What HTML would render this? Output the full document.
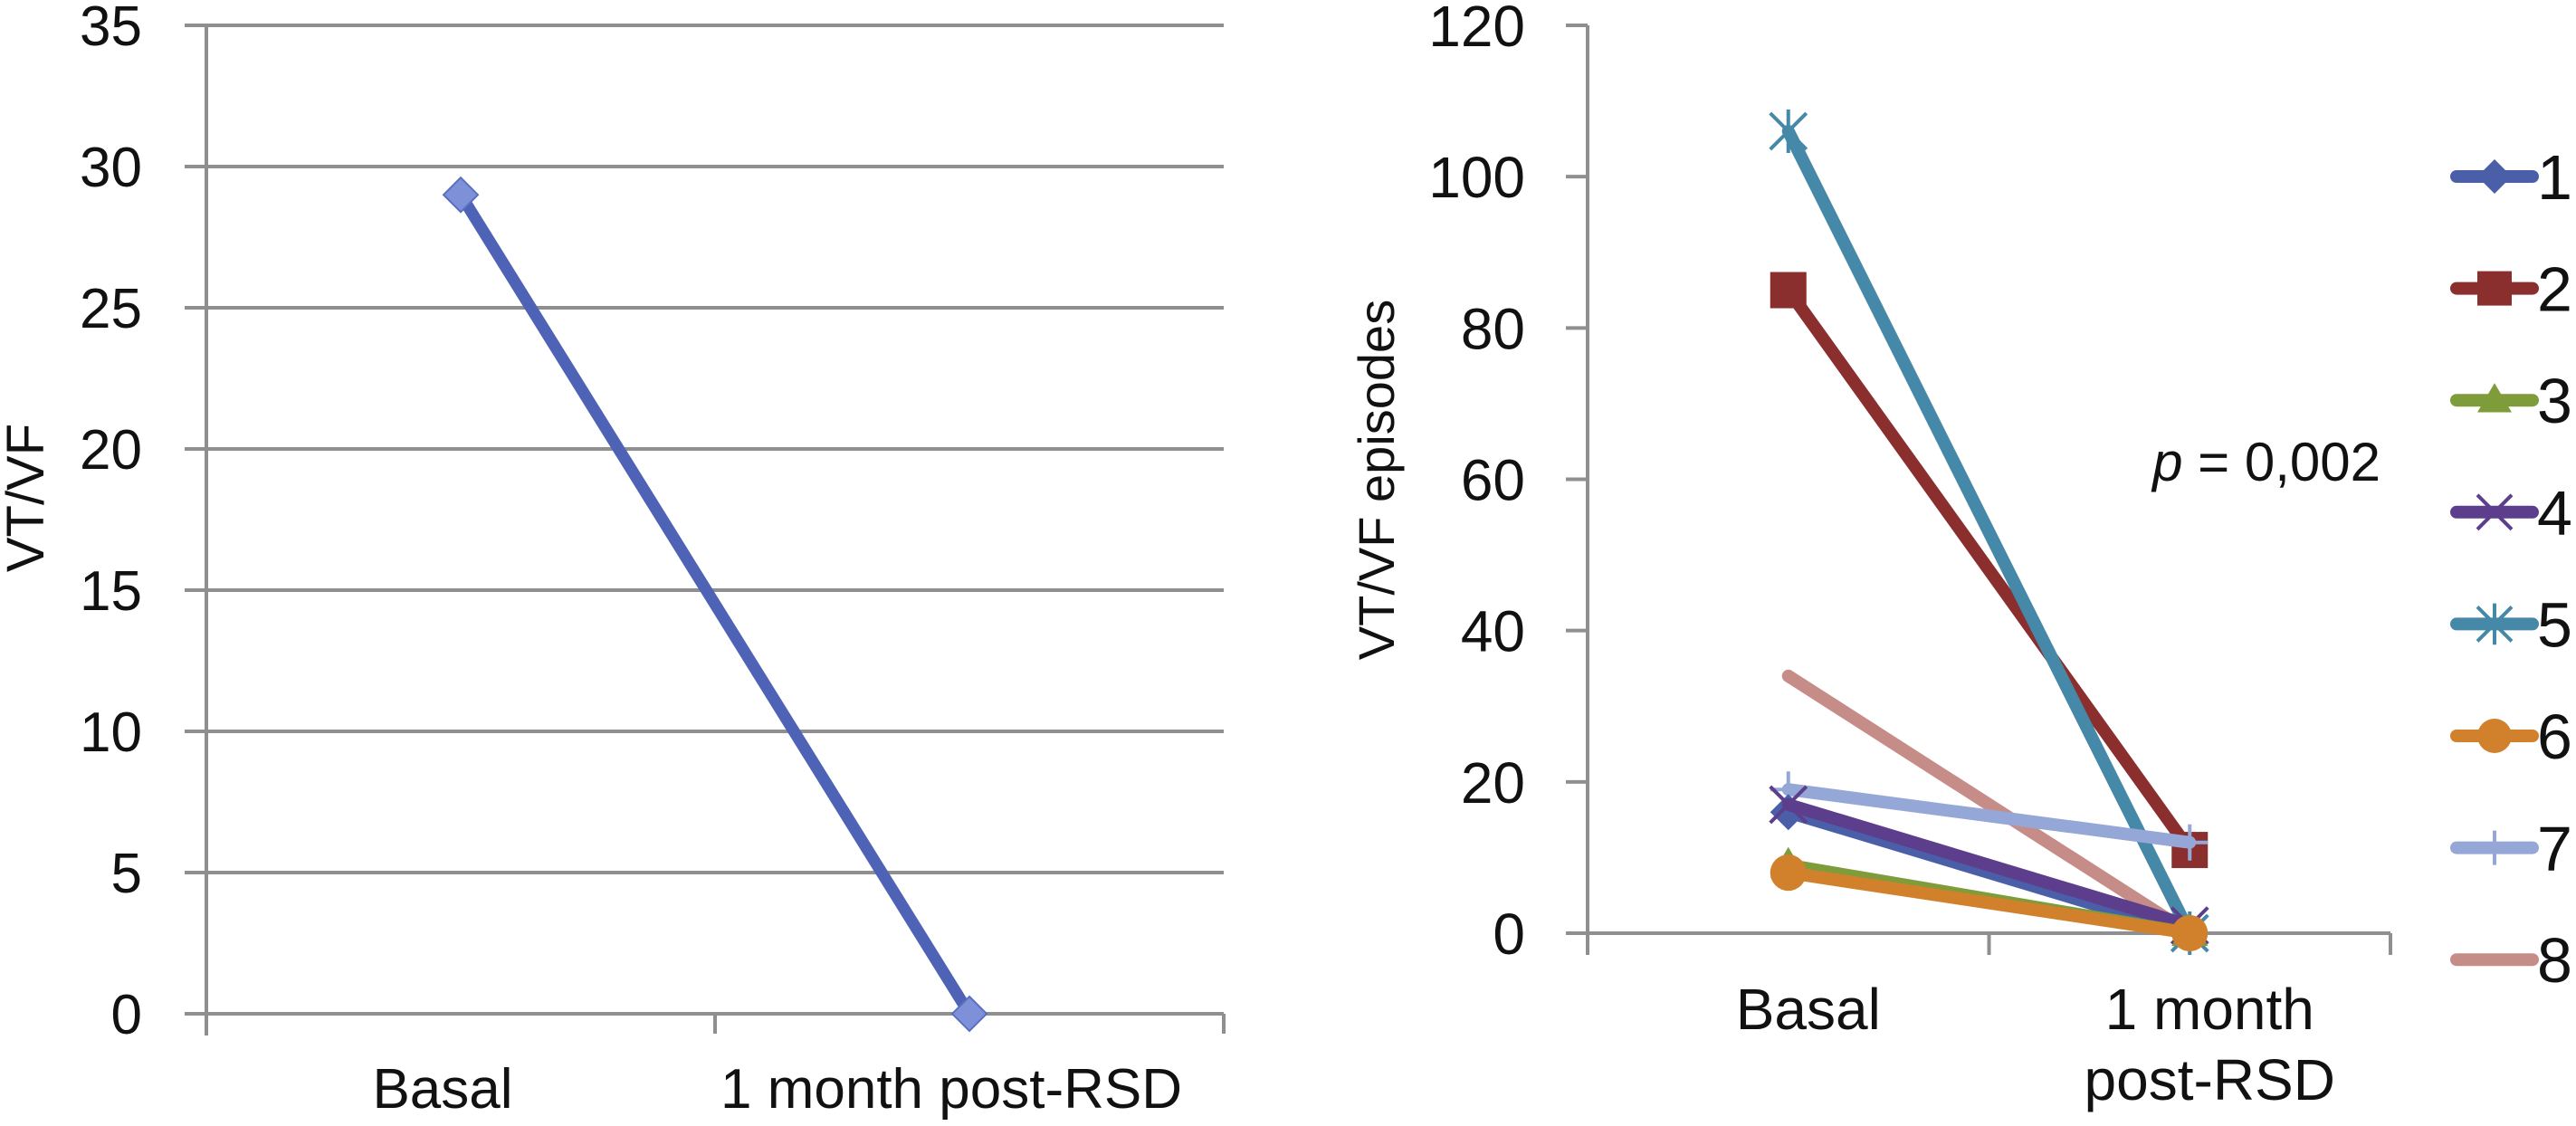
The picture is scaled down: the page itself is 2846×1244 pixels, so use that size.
<!DOCTYPE html>
<html><head><meta charset="utf-8"><style>
html,body{margin:0;padding:0;background:#fff;}
svg{display:block;font-family:"Liberation Sans",sans-serif;}
</style></head><body>
<svg id="chart" width="2846" height="1244" viewBox="0 0 2846 1244"></svg>
<script>
const leftCategories = ["Basal", "1 month post-RSD"];
const leftValues = [29, 0];
const leftTicks = [0, 5, 10, 15, 20, 25, 30, 35];
const rightCategories = ["Basal", "1 month|post-RSD"];
const rightTicks = [0, 20, 40, 60, 80, 100, 120];
const seriesNames = ["1","2","3","4","5","6","7","8"];
const basalValues = [16, 85, 9, 17, 106, 8, 19, 34];
const postValues = [0, 11, 0, 1, 0, 0, 12, 0];
const seriesColors = ["#4a5fa8","#8b2f2e","#7f9c3a","#5d3e8c","#4588a8","#d1812c","#95a7d6","#c68c88"];
const markers = ["diamond","square","triangle","x","star","circle","plus","none"];

const svg = document.getElementById('chart');
const NS = "http://www.w3.org/2000/svg";
function mk(tag, attrs, parent){const e=document.createElementNS(NS,tag);for(const k in attrs)e.setAttribute(k,attrs[k]);(parent||svg).appendChild(e);return e;}

// Left chart
const L = {x0:228, x1:1352, y0:1120, y1:28, max:35};
const ly = v => L.y0 - (v/L.max)*(L.y0-L.y1);
const lx = i => L.x0 + (L.x1-L.x0)*(i+0.5)/leftCategories.length;
const gL = mk('g',{});


leftTicks.forEach(t=>{
  const g = mk('line',{x1:L.x0-24,x2:L.x1,y1:ly(t),y2:ly(t),stroke:'#8f8f8f','stroke-width':4},gL);
  
  
  const tx = mk('text',{x:157,y:ly(t)+22,'text-anchor':'end','font-size':62,fill:'#111'},gL);
  tx.textContent=t;
  
  
});
mk('line',{x1:L.x0,x2:L.x0,y1:L.y1,y2:L.y0+24,stroke:'#8f8f8f','stroke-width':4},gL);
[1,2].forEach(i=>{const xx=L.x0+(L.x1-L.x0)*i/2;mk('line',{x1:xx,x2:xx,y1:L.y0,y2:L.y0+22,stroke:'#8f8f8f','stroke-width':4},gL);});
leftCategories.forEach((c,i)=>{
  const tx=mk('text',{x:lx(i)-20,y:1224,'text-anchor':'middle','font-size':62,fill:'#111'},gL);
  tx.textContent=c;
  
  
});
const lt=mk('text',{x:0,y:0,'text-anchor':'middle','font-size':58,fill:'#111',transform:'translate(48,550) rotate(-90)'},gL);
lt.textContent='VT/VF';


const lline=mk('polyline',{points:leftValues.map((v,i)=>lx(i)+','+ly(v)).join(' '),fill:'none',stroke:'#4f63b6','stroke-width':13,'stroke-linejoin':'round'},gL);


leftValues.forEach((v,i)=>{
  const x=lx(i),y=ly(v),s=19;
  const d=mk('polygon',{points:`${x},${y-s} ${x+s},${y} ${x},${y+s} ${x-s},${y}`,fill:'#7e91d8',stroke:'#5a6fc0','stroke-width':2},gL);
  
  
});

// Right chart
const R = {x0:1754, x1:2641, y0:1031, y1:28, max:120};
const ry = v => R.y0 - (v/R.max)*(R.y0-R.y1);
const rx = i => R.x0 + (R.x1-R.x0)*(i+0.5)/rightCategories.length;
const gR = mk('g',{});


mk('line',{x1:R.x0,x2:R.x0,y1:R.y1,y2:R.y0+24,stroke:'#8f8f8f','stroke-width':4},gR);
mk('line',{x1:R.x0,x2:R.x1,y1:R.y0,y2:R.y0,stroke:'#8f8f8f','stroke-width':4},gR);
[1,2].forEach(i=>{const xx=R.x0+(R.x1-R.x0)*i/2;mk('line',{x1:xx,x2:xx,y1:R.y0,y2:R.y0+24,stroke:'#8f8f8f','stroke-width':4},gR);});
rightTicks.forEach(t=>{
  mk('line',{x1:R.x0-24,x2:R.x0,y1:ry(t),y2:ry(t),stroke:'#8f8f8f','stroke-width':4},gR);
  const tx=mk('text',{x:1685,y:ry(t)+23,'text-anchor':'end','font-size':64,fill:'#111'},gR);
  tx.textContent=t;
  
  
});
rightCategories.forEach((c,i)=>{
  c.split('|').forEach((ln,j)=>{
    const tx=mk('text',{x:rx(i)+22,y:1137+j*78,'text-anchor':'middle','font-size':64,fill:'#111'},gR);
    tx.textContent=ln;
    
    
  });
});
const rt=mk('text',{x:0,y:0,'text-anchor':'middle','font-size':56,fill:'#111',transform:'translate(1540,530) rotate(-90)'},gR);
rt.textContent='VT/VF episodes';


const pt=mk('text',{x:2630,y:531,'text-anchor':'end','font-size':60,fill:'#111'},gR);
pt.innerHTML='<tspan font-style="italic">p</tspan> = 0,002';



function marker(type,x,y,color,parent,s){
  let e;
  if(type==='diamond') e=mk('polygon',{points:`${x},${y-s} ${x+s},${y} ${x},${y+s} ${x-s},${y}`,fill:color},parent);
  else if(type==='square') e=mk('rect',{x:x-s,y:y-s,width:s*2,height:s*2,fill:color},parent);
  else if(type==='triangle') e=mk('polygon',{points:`${x},${y-s} ${x+s},${y+s*0.7} ${x-s},${y+s*0.7}`,fill:color},parent);
  else if(type==='x') e=mk('path',{d:`M${x-s},${y-s}L${x+s},${y+s}M${x-s},${y+s}L${x+s},${y-s}`,stroke:color,'stroke-width':4,fill:'none'},parent);
  else if(type==='star') e=mk('path',{d:`M${x-s},${y-s}L${x+s},${y+s}M${x-s},${y+s}L${x+s},${y-s}M${x},${y-s*1.2}L${x},${y+s*1.2}`,stroke:color,'stroke-width':4,fill:'none'},parent);
  else if(type==='circle') e=mk('circle',{cx:x,cy:y,r:s,fill:color},parent);
  else if(type==='plus') e=mk('path',{d:`M${x-s},${y}L${x+s},${y}M${x},${y-s}L${x},${y+s}`,stroke:color,'stroke-width':4,fill:'none'},parent);
  return e;
}

const order=[1,4,7,6,0,3,2,5];
order.forEach(k=>{
  const g=mk('g',{},gR);
  
  
  const l=mk('line',{x1:rx(0),y1:ry(basalValues[k]),x2:rx(1),y2:ry(postValues[k]),stroke:seriesColors[k],'stroke-width':14,'stroke-linecap':'round'},g);
  
  
  [basalValues[k],postValues[k]].forEach((v,i)=>{
    const m=marker(markers[k],rx(i),ry(v),seriesColors[k],g,20);
    if(m){
    }
  });
});

// Legend
const gLeg=mk('g',{});


seriesNames.forEach((n,k)=>{
  const y=195+k*123.6;
  const g=mk('g',{},gLeg);
  
  
  mk('line',{x1:2714,x2:2798,y1:y,y2:y,stroke:seriesColors[k],'stroke-width':14,'stroke-linecap':'round'},g);
  marker(markers[k],2756,y,seriesColors[k],g,19);
  const t=mk('text',{x:2803,y:y+25,'font-size':70,fill:'#111'},g);
  t.textContent=n;
});
</script>
</body></html>
